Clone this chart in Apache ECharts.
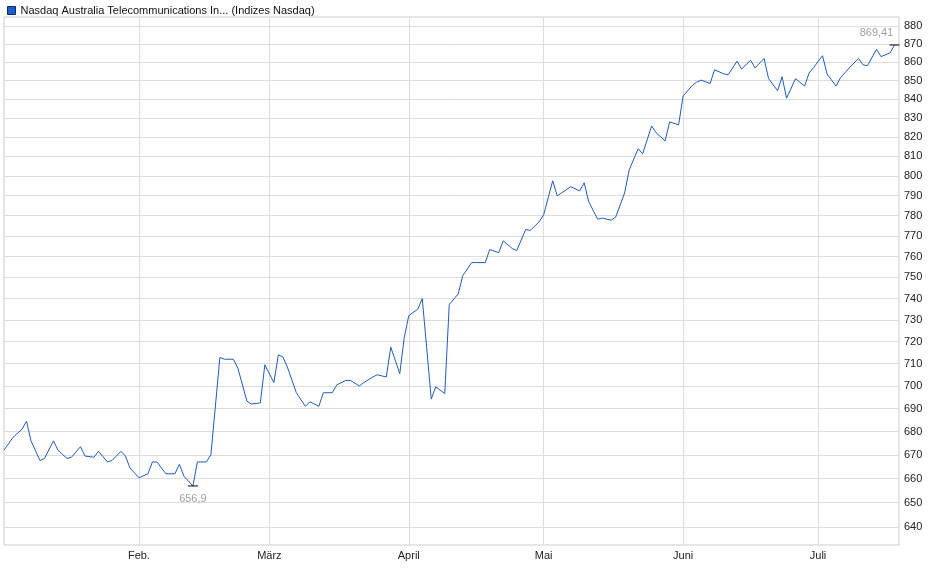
<!DOCTYPE html>
<html><head><meta charset="utf-8">
<script src="https://cdn.jsdelivr.net/npm/echarts@6/dist/echarts.min.js"></script>
<style>html,body{margin:0;padding:0;background:#fff}#c{width:940px;height:579px}</style>
</head><body><div id="c"></div>
<script>
const seriesName = 'Nasdaq Australia Telecommunications In... (Indizes Nasdaq)';
const dates = ['2024-01-02','2024-01-04','2024-01-06','2024-01-07','2024-01-08','2024-01-10','2024-01-11','2024-01-13','2024-01-14','2024-01-16','2024-01-17','2024-01-19','2024-01-20','2024-01-22','2024-01-23','2024-01-25','2024-01-26','2024-01-28','2024-01-29','2024-01-30','2024-02-01',
'2024-02-03','2024-02-04','2024-02-05','2024-02-07','2024-02-09','2024-02-10','2024-02-11','2024-02-13','2024-02-14','2024-02-16','2024-02-17','2024-02-19','2024-02-20','2024-02-22','2024-02-23','2024-02-25','2024-02-26','2024-02-28','2024-02-29',
'2024-03-02','2024-03-03','2024-03-04','2024-03-05','2024-03-07','2024-03-09','2024-03-10','2024-03-12','2024-03-13','2024-03-15','2024-03-16','2024-03-18','2024-03-19','2024-03-21','2024-03-22','2024-03-24','2024-03-25','2024-03-27','2024-03-28','2024-03-30','2024-03-31',
'2024-04-01','2024-04-03','2024-04-04','2024-04-06','2024-04-07','2024-04-09','2024-04-10','2024-04-12','2024-04-13','2024-04-15','2024-04-16','2024-04-18','2024-04-19','2024-04-21','2024-04-22','2024-04-24','2024-04-25','2024-04-27','2024-04-28','2024-04-30',
'2024-05-01','2024-05-03','2024-05-04','2024-05-05','2024-05-07','2024-05-09','2024-05-10','2024-05-11','2024-05-13','2024-05-14','2024-05-16','2024-05-17','2024-05-19','2024-05-20','2024-05-22','2024-05-23','2024-05-25','2024-05-26','2024-05-28','2024-05-29','2024-05-31',
'2024-06-01','2024-06-03','2024-06-04','2024-06-05','2024-06-07','2024-06-08','2024-06-10','2024-06-11','2024-06-13','2024-06-14','2024-06-16','2024-06-17','2024-06-19','2024-06-20','2024-06-22','2024-06-23','2024-06-24','2024-06-26','2024-06-28','2024-06-29','2024-06-30',
'2024-07-02','2024-07-03','2024-07-05','2024-07-06','2024-07-08','2024-07-10','2024-07-11','2024-07-12','2024-07-14','2024-07-15','2024-07-17','2024-07-18'];
const values = [672,677.5,681,684.5,676,667.6,668.5,676,672,668.5,669,673.5,669.5,669,671.5,667,667.6,671.5,669.5,664.5,660.3,
662,667,667,662,662,666,661,656.9,667,667,670,712.8,712,712,708,693.3,692,692.5,709.5,
701.5,714,713,708.5,697,691,693,691,697,697,700.5,702.5,702.5,700,701.5,704,705,704,717.5,705.5,722,
732,735,740,694.2,699.6,696.6,737.2,742.2,750.8,757.1,757.1,757.1,763.4,761.9,767.6,763.9,762.9,773.2,772.7,777,
780.5,797.5,789.9,791.4,794.5,792.4,796.5,787,778.3,778.8,777.8,779.3,791.4,803,813.9,811.3,825.8,822.2,818,827.9,826.4,
841.7,847.2,849.1,850.2,848.4,855.8,853.6,853.1,860.5,856.2,861,856.8,862,851,844.5,852,840.5,851,847,854,857,
863.5,853.5,847,851.5,857,862,858.5,858,867,863,865,869.41];
const yTicks = [640,650,660,670,680,690,700,710,720,730,740,750,760,770,780,790,800,810,820,830,840,850,860,870,880];
const monthTicks = ['2024-02-01','2024-03-01','2024-04-01','2024-05-01','2024-06-01','2024-07-01'];
const monthLabels = ['Feb.','März','April','Mai','Juni','Juli'];

const ts = s => new Date(s + 'T00:00:00Z').getTime();
const monthTs = monthTicks.map(ts);
const chart = echarts.init(document.getElementById('c'));
chart.setOption({
  animation: false,
  textStyle: {fontFamily: 'Liberation Sans, Arial, sans-serif'},
  legend: {left: 2, top: 0, icon: 'rect', itemWidth: 8, itemHeight: 8, itemGap: 4,
    textStyle: {fontSize: 11, color: '#111'},
    data: [{name: seriesName, itemStyle: {color: '#1f5bc4', borderColor: '#0b2a6e', borderWidth: 1}}]},
  grid: {left: 4, right: 41, top: 17, bottom: 34, show: true, borderColor: '#ccc', borderWidth: 1},
  xAxis: {
    type: 'value', min: ts('2024-01-02'), max: ts('2024-07-19'),
    axisLine: {show: false}, axisTick: {show: false, customValues: monthTs},
    splitLine: {show: true, lineStyle: {color: '#ddd'}},
    axisLabel: {customValues: monthTs, fontSize: 11, color: '#222', margin: 5,
      formatter: v => { const i = monthTs.indexOf(v); return i >= 0 ? monthLabels[i] : ''; }}
  },
  yAxis: {
    type: 'log', position: 'right', min: 632.7, max: 885, logBase: 10,
    axisLine: {show: false}, axisTick: {show: false, customValues: yTicks},
    splitLine: {show: true, lineStyle: {color: '#ddd'}},
    axisLabel: {customValues: yTicks, fontSize: 11, color: '#222', margin: 5}
  },
  series: [{
    name: seriesName, type: 'line', showSymbol: false, symbol: 'none',
    data: dates.map((d, i) => [ts(d), values[i]]),
    lineStyle: {color: '#1f5bc4', width: 1}, itemStyle: {color: '#1f5bc4'},
    markPoint: {
      symbol: 'rect', symbolSize: [10, 1], itemStyle: {color: '#000'},
      label: {show: true, color: '#a0a0a0', fontSize: 11, formatter: p => String(p.value).replace('.', ',')},
      data: [
        {type: 'max', label: {position: 'top', offset: [-18, -1]}},
        {type: 'min', label: {position: 'bottom', offset: [0, 2]}}
      ]
    }
  }]
});
</script></body></html>
